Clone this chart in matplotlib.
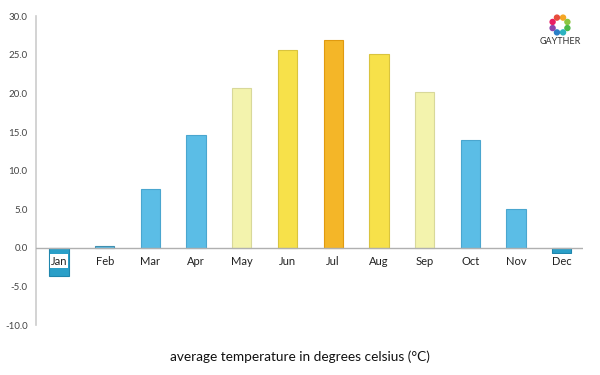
import matplotlib

matplotlib.use("Agg")
import matplotlib.pyplot as plt
from matplotlib.patches import Ellipse
import numpy as np

months = ["Jan", "Feb", "Mar", "Apr", "May", "Jun", "Jul", "Aug", "Sep", "Oct", "Nov", "Dec"]
temps = [-3.6, 0.3, 7.6, 14.6, 20.7, 25.6, 26.9, 25.1, 20.2, 14.0, 5.0, -0.7]
colors = ["#2a9fc8", "#5bbde6", "#5bbde6", "#5bbde6", "#f3f3ad", "#f7e14a",
          "#f4b628", "#f7e14a", "#f3f3ad", "#5bbde6", "#5bbde6", "#2a9fc8"]
edges = ["#1f86ad", "#3f8fb0", "#4aa6cf", "#4aa6cf", "#d8d89a", "#d9c43e",
         "#e09a10", "#d9c43e", "#d8d89a", "#4aa6cf", "#4aa6cf", "#1f86ad"]
yticks = [-10, -5, 0, 5, 10, 15, 20, 25, 30]

plt.rcParams["font.family"] = ["Lato", "DejaVu Sans"]

fig = plt.figure(figsize=(6, 3.75), dpi=100)
ax = fig.add_axes([0.06, 0.133, 0.912, 0.824])

x = np.arange(len(months))
ax.bar(x, temps, width=0.42, color=colors, edgecolor=edges, linewidth=0.8, zorder=2)
ax.axhline(0, color="#b0b0b0", lw=1, zorder=3)

for xi, m in zip(x, months):
    ax.text(xi, -1.7, m, ha="center", va="center", fontsize=8, color="#222222",
            bbox=dict(boxstyle="square,pad=0.1", fc="white", ec="none"), zorder=4)

ax.set_xlim(-0.503, 11.47)
ax.set_ylim(-10, 30)
ax.set_xticks([])
ax.set_yticks(yticks)
ax.set_yticklabels([f"{v:.1f}" for v in yticks], fontsize=7, color="#444444")
ax.tick_params(axis="y", length=0, pad=6)
for s in ["top", "right", "bottom"]:
    ax.spines[s].set_visible(False)
ax.spines["left"].set_color("#cccccc")
ax.spines["left"].set_linewidth(1.2)

fig.text(0.5, 0.05, "average temperature in degrees celsius (°C)", ha="center",
         va="center", fontsize=9.8, color="#111111")

# logo: ring of coloured dots + name
lx, ly = 560 / 600, 1 - 25 / 375
ring = ["#f5a623", "#8cc63f", "#4cb848", "#2bb3c0", "#2a7fc8", "#8e44ad", "#e91e63", "#e74c3c"]
for k, c in enumerate(ring):
    a = np.pi / 2 - (k + 0.5) * 2 * np.pi / len(ring)
    cx, cy = lx + 8 / 600 * np.cos(a), ly + 8 / 375 * np.sin(a)
    fig.patches.append(Ellipse((cx, cy), 5 / 600, 5 / 375, color=c,
                               transform=fig.transFigure, figure=fig))
fig.text(lx, 1 - 42 / 375, "GAYTHER", ha="center", va="center", fontsize=6.5, color="#333333")

fig.savefig("out.png", dpi=100)
